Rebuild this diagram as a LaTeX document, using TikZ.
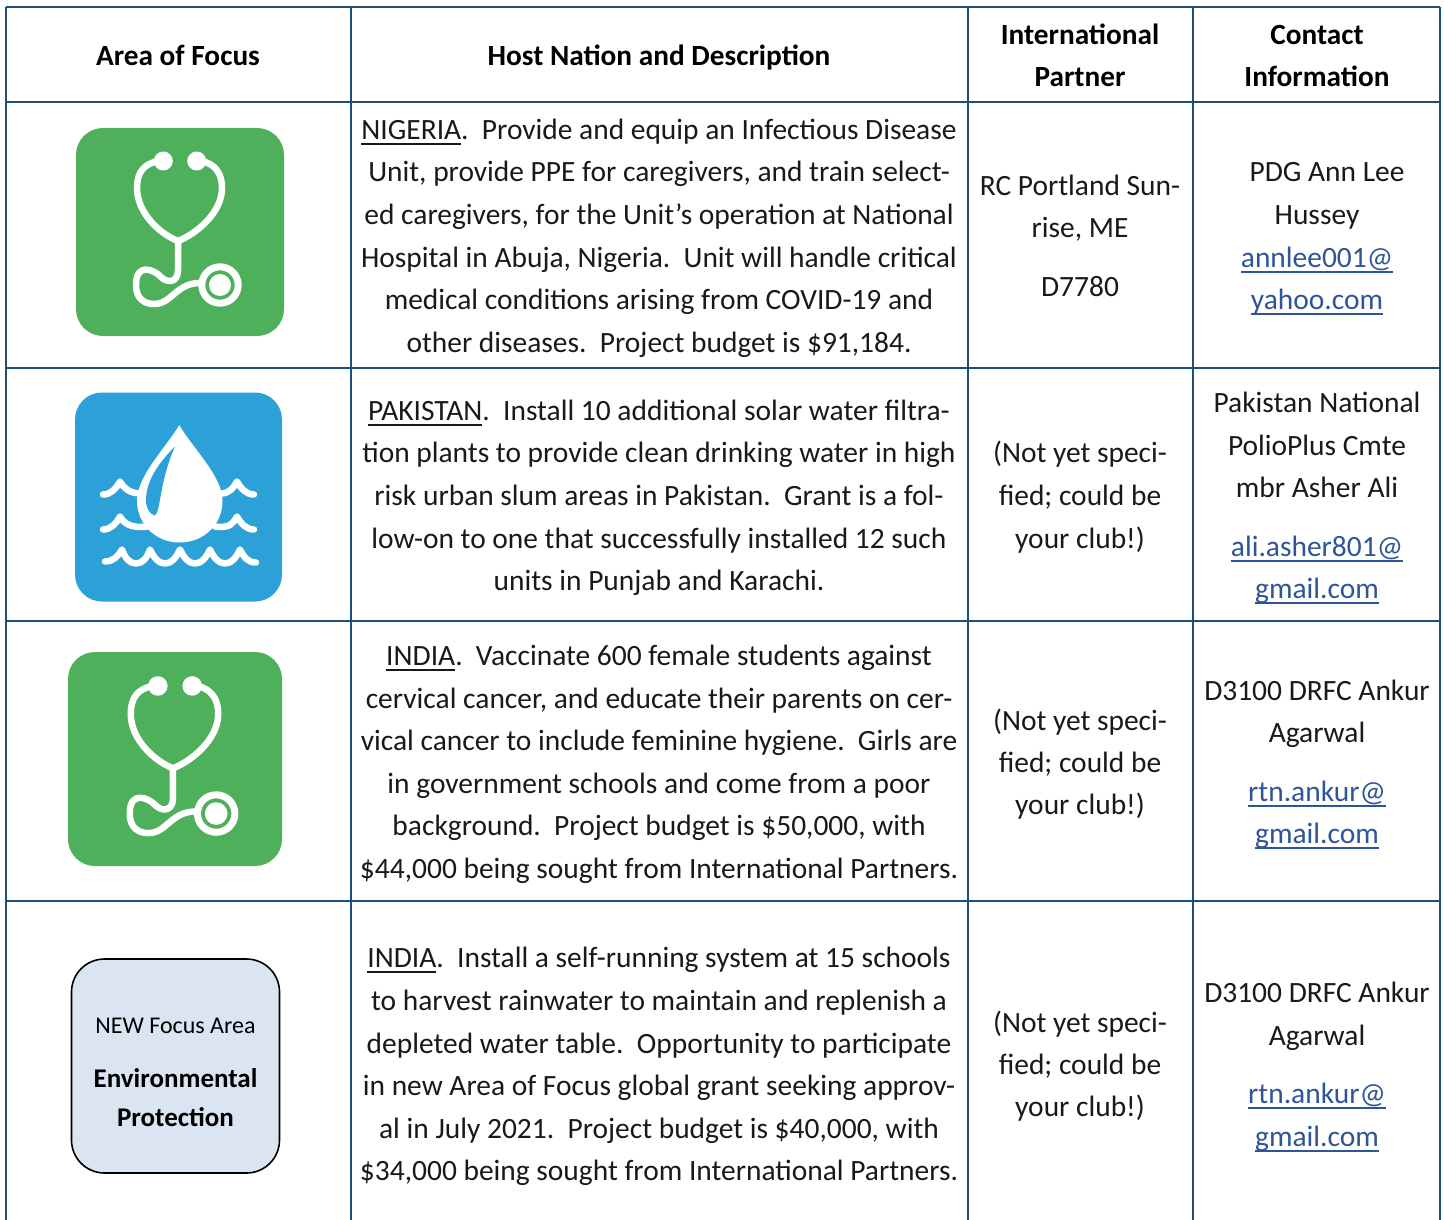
\documentclass[tikz,border=0pt]{standalone}
\usepackage{fontspec}
\setmainfont{Carlito}
\definecolor{gridblue}{HTML}{1F4E79}
\definecolor{iconGreen}{HTML}{4FB05C}
\definecolor{iconBlue}{HTML}{2CA1D8}
\definecolor{linkblue}{HTML}{2F5597}
\definecolor{boxfill}{HTML}{DBE5F1}
\newcounter{tl}
\newsavebox{\ulbox}
\newcommand{\tline}[3]{\stepcounter{tl}\node[txt] (t\arabic{tl}) at (#1,#2) {#3};}
\newcommand{\hdrline}[3]{\stepcounter{tl}\node[hdr] (t\arabic{tl}) at (#1,#2) {#3};}
\newcommand{\ulin}[1]{\sbox{\ulbox}{#1}\rlap{\rule[-5.4pt]{\wd\ulbox}{2pt}}\usebox{\ulbox}}
\newcommand{\lnk}[1]{\textcolor{linkblue}{\ulin{#1}}}
\tikzset{
  txt/.style={anchor=base,inner sep=0pt,yshift=-0.8pt,font=\fontsize{29.45}{30}\selectfont,text=black!90},
  hdr/.style={anchor=base,inner sep=0pt,font=\fontsize{29.3}{30}\bfseries\selectfont,text=black},
  gridline/.style={draw=gridblue,line width=2pt},
  tube/.style={draw=white,line width=6.5pt,line cap=round,line join=round},
  pics/steth/.style={code={
    \fill[iconGreen,rounded corners=27pt] (0,0) rectangle (208,208);
    \draw[tube] (82,33) .. controls (68,36) and (61,44) .. (61,60)
      .. controls (61,85) and (84,106) .. (102,113)
      .. controls (120,106) and (146,85) .. (146,60)
      .. controls (146,44) and (138,36) .. (126,33);
    \fill[white] (87.3,33) circle (9.5) (120.7,33) circle (9.5);
    \draw[tube] (102,113) -- (102,142) .. controls (102,156) and (90,155) .. (84,148)
      .. controls (78,142) and (60,134) .. (60,157)
      .. controls (60,172) and (70,176) .. (78,176)
      .. controls (96,176) and (100,155) .. (124,155);
    \draw[white,line width=7pt,fill=iconGreen] (144,157) circle (18.2);
    \fill[white] (144,157) circle (11);
  }},
  pics/drop/.style={code={
    \fill[iconBlue,rounded corners=27pt] (0,0) rectangle (207,209);
    \fill[white] (104.3,32.7) .. controls (90,56) and (62,84) .. (62,108)
      .. controls (62,133) and (82,150) .. (104.3,150)
      .. controls (128,150) and (147.5,133) .. (147.5,108)
      .. controls (147.5,84) and (118,56) .. (104.3,32.7) -- cycle;
    \fill[iconBlue] (100,54) .. controls (84,70) and (71,88) .. (71,108)
      .. controls (71,116) and (75,122) .. (80,123)
      .. controls (86,118) and (84,90) .. (100,54) -- cycle;
    \draw[tube] (28,102) .. controls (36,102) and (41,96) .. (45,89)
      .. controls (49,96) and (54,100) .. (64,101);
    \draw[tube] (147,101) .. controls (155,100) and (158,96) .. (162,89)
      .. controls (166,96) and (171,102) .. (179,102);
    \draw[tube] (28,137) .. controls (36,137) and (41,131) .. (45,124)
      .. controls (49,131) and (56,136) .. (72,134);
    \draw[tube] (140,134) .. controls (155,136) and (158,131) .. (162,124)
      .. controls (166,131) and (171,137) .. (179,137);
    \draw[tube] (30,169) .. controls (38,169) and (43,164) .. (47,157)
      .. controls (50,165) and (54,171) .. (61,171)
      .. controls (68,171) and (72,165) .. (75,157)
      .. controls (79,165) and (83,171) .. (90,171)
      .. controls (97,171) and (101,165) .. (105,157)
      .. controls (109,165) and (113,171) .. (120,171)
      .. controls (127,171) and (131,165) .. (135,157)
      .. controls (139,165) and (143,171) .. (150,171)
      .. controls (157,171) and (161,165) .. (165,157)
      .. controls (169,165) and (173,170) .. (181,170);
  }},
}
\begin{document}
\begin{tikzpicture}[x=1pt,y=-1pt]
\useasboundingbox (0,0) rectangle (1444,1220);
\fill[white] (0,0) rectangle (1444,1220);
% grid
\foreach \xx in {6,351,968,1193,1440} \draw[gridline] (\xx,7) -- (\xx,1220);
\foreach \yy in {7,102,368,621,901} \draw[gridline] (6,\yy) -- (1440,\yy);
% icons
\pic at (76,128) {steth};
\pic at (75,392.5) {drop};
\pic[scale=1.029] at (68,652) {steth};
% focus box
\node[draw=black,line width=1.6pt,fill=boxfill,rounded corners=33pt,minimum width=208pt,minimum height=214pt,inner sep=0pt] (focus) at (175.5,1066) {};
\node[anchor=base,inner sep=0pt,font=\fontsize{24}{24}\selectfont] (focusA) at (175.5,1033) {NEW Focus Area};
\node[anchor=base,inner sep=0pt,font=\fontsize{27}{27}\bfseries\selectfont] (focusB) at (175.5,1087) {Environmental};
\node[anchor=base,inner sep=0pt,font=\fontsize{27}{27}\bfseries\selectfont] (focusC) at (175.5,1126) {Protection};
% headers
\hdrline{178}{65.5}{Area of Focus}
\hdrline{659}{65.5}{Host Nation and Description}
\hdrline{1080}{44.5}{International}
\hdrline{1080}{86.5}{Partner}
\hdrline{1317}{44.5}{Contact}
\hdrline{1317}{86.5}{Information}
% row 1
\tline{659}{139}{\ulin{NIGERIA}.\ \ Provide and equip an Infectious Disease}
\tline{659}{181}{Unit, provide PPE for caregivers, and train select-}
\tline{659}{224}{ed caregivers, for the Unit’s operation at National}
\tline{659}{267}{Hospital in Abuja, Nigeria.\ \ Unit will handle critical}
\tline{659}{309}{medical conditions arising from COVID-19 and}
\tline{659}{352}{other diseases.\ \ Project budget is \$91,184.}
\tline{1080}{195}{RC Portland Sun-}
\tline{1080}{237}{rise, ME}
\tline{1080}{296}{D7780}
\tline{1327}{181}{PDG Ann Lee}
\tline{1317}{224}{Hussey}
\tline{1317}{267}{\lnk{annlee001@}}
\tline{1317}{309}{\lnk{yahoo.com}}
% row 2
\tline{659}{420}{\ulin{PAKISTAN}.\ \ Install 10 additional solar water filtra-}
\tline{659}{462}{tion plants to provide clean drinking water in high}
\tline{659}{505}{risk urban slum areas in Pakistan.\ \ Grant is a fol-}
\tline{659}{548}{low-on to one that successfully installed 12 such}
\tline{659}{590}{units in Punjab and Karachi.}
\tline{1080}{462}{(Not yet speci-}
\tline{1080}{505}{fied; could be}
\tline{1080}{548}{your club!)}
\tline{1317}{412}{Pakistan National}
\tline{1317}{455}{PolioPlus Cmte}
\tline{1317}{497}{mbr Asher Ali}
\tline{1317}{556}{\lnk{ali.asher801@}}
\tline{1317}{598}{\lnk{gmail.com}}
% row 3
\tline{659}{665}{\ulin{INDIA}.\ \ Vaccinate 600 female students against}
\tline{659}{708}{cervical cancer, and educate their parents on cer-}
\tline{659}{750}{vical cancer to include feminine hygiene.\ \ Girls are}
\tline{659}{793}{in government schools and come from a poor}
\tline{659}{835}{background.\ \ Project budget is \$50,000, with}
\tline{659}{878}{\$44,000 being sought from International Partners.}
\tline{1080}{730}{(Not yet speci-}
\tline{1080}{772}{fied; could be}
\tline{1080}{814}{your club!)}
\tline{1317}{700}{D3100 DRFC Ankur}
\tline{1317}{742}{Agarwal}
\tline{1317}{801}{\lnk{rtn.ankur@}}
\tline{1317}{843}{\lnk{gmail.com}}
% row 4
\tline{659}{967}{\ulin{INDIA}.\ \ Install a self-running system at 15 schools}
\tline{659}{1010}{to harvest rainwater to maintain and replenish a}
\tline{659}{1053}{depleted water table.\ \ Opportunity to participate}
\tline{659}{1095}{in new Area of Focus global grant seeking approv-}
\tline{659}{1138}{al in July 2021.\ \ Project budget is \$40,000, with}
\tline{659}{1180}{\$34,000 being sought from International Partners.}
\tline{1080}{1032}{(Not yet speci-}
\tline{1080}{1074}{fied; could be}
\tline{1080}{1116}{your club!)}
\tline{1317}{1002}{D3100 DRFC Ankur}
\tline{1317}{1045}{Agarwal}
\tline{1317}{1103}{\lnk{rtn.ankur@}}
\tline{1317}{1146}{\lnk{gmail.com}}
\end{tikzpicture}
\end{document}
